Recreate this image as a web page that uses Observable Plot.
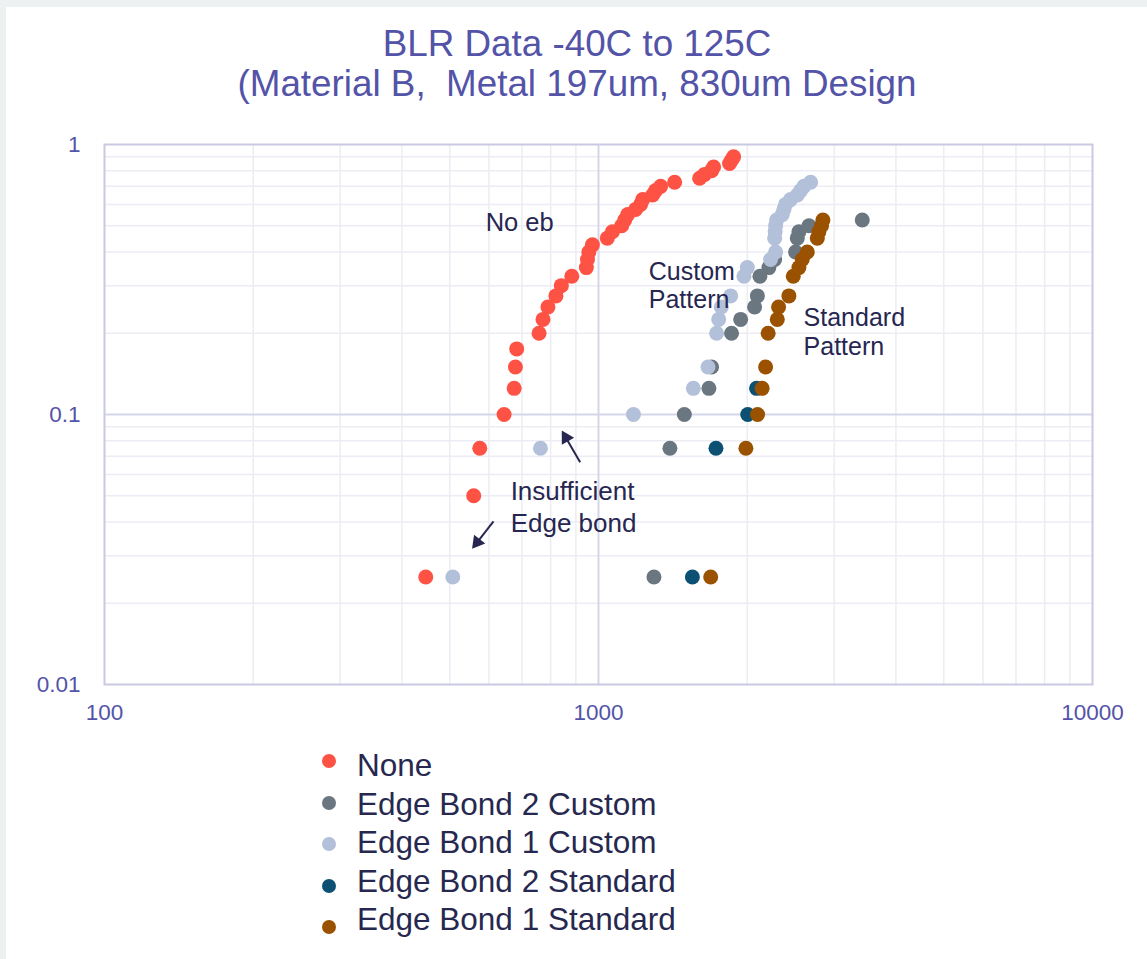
<!DOCTYPE html>
<html>
<head>
<meta charset="utf-8">
<script src="https://cdn.jsdelivr.net/npm/d3@7"></script>
<script src="https://cdn.jsdelivr.net/npm/@observablehq/plot@0.6"></script>
<style>
html,body{margin:0;padding:0;background:#edf1f2;width:1147px;height:959px;overflow:hidden;font-family:Arial,"Liberation Sans",sans-serif;}
#card{position:absolute;left:6px;top:7px;width:1141px;height:952px;background:#ffffff;}
#title{position:absolute;left:0;top:24px;width:1154px;text-align:center;color:#5353a8;font-size:36.8px;line-height:40px;white-space:pre;}
#chart{position:absolute;left:0;top:120px;}
#legend{position:absolute;left:0;top:746px;width:800px;}
.row{position:relative;height:38.5px;line-height:38.5px;font-size:31.5px;color:#27284f;white-space:pre;}
.sw{position:absolute;left:322px;width:14px;height:14px;border-radius:50%;}
.lbl{position:absolute;left:357px;top:0;}
</style>
</head>
<body>
<div id="card"></div>
<div id="title"></div>
<div id="chart"></div>
<div id="legend"></div>
<script>
// ---- Data ----
const titleLines = ["BLR Data -40C to 125C", "(Material B,  Metal 197um, 830um Design"];
const series = ["None", "Edge Bond 2 Custom", "Edge Bond 1 Custom", "Edge Bond 2 Standard", "Edge Bond 1 Standard"];
const colors = ["#fd5244", "#6b7780", "#b3c0d9", "#0c5173", "#9a5200"];

const xTicks = [100, 1000, 10000];
const yTicks = [0.01, 0.1, 1];

const noneCycles = [447, 559, 575, 644, 675, 679, 683, 758, 772, 790, 820, 841, 883, 945, 950, 956, 972, 1042, 1067, 1114, 1130, 1146, 1189, 1217, 1229, 1287, 1305, 1336, 1426, 1602, 1640, 1694, 1710, 1842, 1859, 1877];
const noneFraction = [0.025, 0.05, 0.075, 0.1, 0.125, 0.15, 0.175, 0.2, 0.225, 0.25, 0.275, 0.3, 0.325, 0.35, 0.375, 0.4, 0.425, 0.45, 0.475, 0.5, 0.525, 0.55, 0.575, 0.6, 0.625, 0.65, 0.675, 0.7, 0.725, 0.75, 0.775, 0.8, 0.825, 0.85, 0.875, 0.9];

const eb2CustomCycles = [1295, 1395, 1492, 1673, 1694, 1859, 1940, 2070, 2097, 2122, 2213, 2273, 2506, 2526, 2545, 2667, 3419];
const eb2CustomFraction = [0.025, 0.075, 0.1, 0.125, 0.15, 0.2, 0.225, 0.25, 0.275, 0.325, 0.35, 0.375, 0.4, 0.45, 0.475, 0.5, 0.525];

const eb1CustomCycles = [507, 763, 1177, 1556, 1666, 1734, 1751, 1772, 1851, 1970, 2001, 2230, 2283, 2273, 2278, 2283, 2294, 2355, 2373, 2392, 2448, 2526, 2566, 2605, 2688];
const eb1CustomFraction = [0.025, 0.075, 0.1, 0.125, 0.15, 0.2, 0.225, 0.25, 0.275, 0.325, 0.35, 0.375, 0.4, 0.45, 0.475, 0.5, 0.525, 0.55, 0.575, 0.6, 0.625, 0.65, 0.675, 0.7, 0.725];

const eb2StandardCycles = [1549, 1729, 2005, 2089];
const eb2StandardFraction = [0.025, 0.075, 0.1, 0.125];

const eb1StandardCycles = [1687, 1988, 2099, 2144, 2179, 2205, 2301, 2315, 2429, 2479, 2545, 2585, 2646, 2773, 2793, 2828, 2846];
const eb1StandardFraction = [0.025, 0.075, 0.1, 0.125, 0.15, 0.2, 0.225, 0.25, 0.275, 0.325, 0.35, 0.375, 0.4, 0.45, 0.475, 0.5, 0.525];

const noteText = ["No eb", "Custom\nPattern", "Standard\nPattern", "Insufficient\nEdge bond"];
const noteX = [591, 1264, 2601, 664];
const noteY = [0.512, 0.3014, 0.203, 0.046];

const arrowFromX = [918, 613];
const arrowFromY = [0.0666, 0.0402];
const arrowToX = [838, 551];
const arrowToY = [0.0887, 0.0313];

// ---- Build tables ----
const seriesCycles = [noneCycles, eb2CustomCycles, eb1CustomCycles, eb2StandardCycles, eb1StandardCycles];
const seriesFraction = [noneFraction, eb2CustomFraction, eb1CustomFraction, eb2StandardFraction, eb1StandardFraction];
const rows = [];
series.forEach((s, i) => seriesCycles[i].forEach((c, j) => rows.push({series: s, cycles: c, fraction: seriesFraction[i][j]})));

const xMinor = [], yMinor = [];
[100, 1000].forEach(d => { for (let k = 2; k <= 9; k++) xMinor.push(d * k); });
[0.01, 0.1].forEach(d => { for (let k = 2; k <= 9; k++) yMinor.push(+(d * k).toFixed(3)); });

const W = 1147, H = 614, mt = 24, ml = 104, mr = 55, mb = 50;
const xs = d3.scaleLog([100, 10000], [ml, W - mr]);
const ys = d3.scaleLog([0.01, 1], [H - mb, mt]);
const headR = 6.8;
const headK = Math.sqrt((Math.PI * headR * headR) / (3 * Math.sqrt(3)));
const arrows = arrowFromX.map((x1, i) => {
  const p1 = [xs(x1), ys(arrowFromY[i])], p2 = [xs(arrowToX[i]), ys(arrowToY[i])];
  const len = Math.hypot(p2[0] - p1[0], p2[1] - p1[1]);
  const u = [(p2[0] - p1[0]) / len, (p2[1] - p1[1]) / len];
  const c = [p2[0] - u[0] * 2 * headK, p2[1] - u[1] * 2 * headK];
  return {x1, y1: arrowFromY[i], x2: xs.invert(c[0]), y2: ys.invert(c[1]),
          angle: Math.atan2(u[0], -u[1]) * 180 / Math.PI};
});
const notes = noteText.map((t, i) => ({t, x: noteX[i], y: noteY[i]}));
const textColor = "#262650";

const chart = Plot.plot({
  width: W, height: H,
  marginTop: mt, marginLeft: ml, marginRight: mr, marginBottom: mb,
  style: {background: "transparent", fontFamily: "Arial, 'Liberation Sans', sans-serif", color: "#5353a8"},
  x: {type: "log", domain: [100, 10000]},
  y: {type: "log", domain: [0.01, 1]},
  color: {domain: series, range: colors},
  marks: [
    Plot.ruleX(xMinor, {stroke: "#ececf5", strokeWidth: 1.5}),
    Plot.ruleY(yMinor, {stroke: "#ececf5", strokeWidth: 1.5}),
    Plot.ruleX([1000], {stroke: "#d6d6ea", strokeWidth: 2}),
    Plot.ruleY([0.1], {stroke: "#d6d6ea", strokeWidth: 2}),
    Plot.frame({stroke: "#c9c9e2", strokeWidth: 2}),
    Plot.axisX(xTicks, {tickSize: 0, tickPadding: 20, fontSize: 22.5, tickFormat: d => String(d), fill: "#5353a8", label: null}),
    Plot.axisY(yTicks, {tickSize: 0, tickPadding: 24, fontSize: 22.5, tickFormat: d => String(d), fill: "#5353a8", label: null}),
    Plot.dot(rows, {x: "cycles", y: "fraction", fill: "series", r: 7.5}),
    Plot.text(notes.filter((d, i) => i === 0), {x: "x", y: "y", text: "t", textAnchor: "start", lineAnchor: "middle", fontSize: 25.5, fill: textColor}),
    Plot.text(notes.filter((d, i) => i === 1 || i === 2), {x: "x", y: "y", text: "t", textAnchor: "start", lineAnchor: "middle", lineHeight: 1.13, fontSize: 25, fill: textColor}),
    Plot.text(notes.filter((d, i) => i === 3), {x: "x", y: "y", text: "t", textAnchor: "start", lineAnchor: "middle", lineHeight: 1.22, fontSize: 26, fill: textColor}),
    Plot.link(arrows, {x1: "x1", y1: "y1", x2: "x2", y2: "y2", stroke: textColor, strokeWidth: 2}),
    Plot.dot(arrows, {x: "x2", y: "y2", symbol: "triangle2", r: headR, rotate: "angle", fill: textColor, stroke: "none"})
  ]
});
document.getElementById("chart").appendChild(chart);

// ---- Title ----
document.getElementById("title").textContent = titleLines.join("\n");

// ---- Legend ----
const legend = document.getElementById("legend");
series.forEach((s, i) => {
  const row = document.createElement("div");
  row.className = "row";
  const sw = document.createElement("div");
  sw.className = "sw";
  sw.style.background = colors[i];
  sw.style.top = (8 + 3 * i) + "px";
  const lbl = document.createElement("div");
  lbl.className = "lbl";
  lbl.textContent = s;
  row.appendChild(sw);
  row.appendChild(lbl);
  legend.appendChild(row);
});
</script>
</body>
</html>
